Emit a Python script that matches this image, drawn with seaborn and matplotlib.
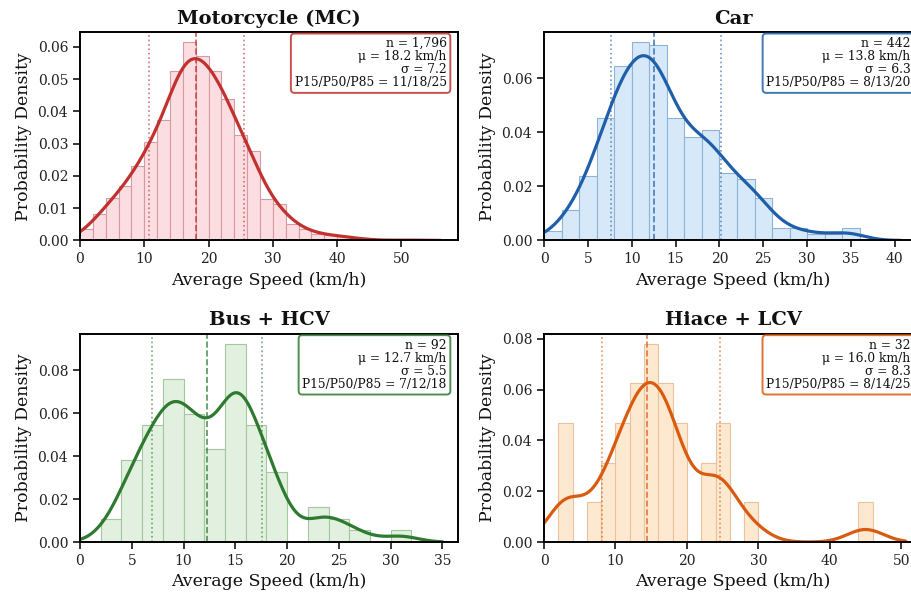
import numpy as np
import matplotlib.pyplot as plt
import seaborn as sns

# ---------------------------------------------------------------
# Speed distributions per vehicle class (2 km/h bins)
# ---------------------------------------------------------------

BIN_WIDTH = 2

titles = ["Motorcycle (MC)", "Car", "Bus + HCV", "Hiace + LCV"]

# first bin edge of each class, trips counted per 2 km/h bin
first_edge = [0, 0, 2, 2]
mc_counts = [13, 29, 47, 61, 83, 110, 134, 189, 221, 205, 189, 158, 117,
             100, 46, 41, 18, 13, 7, 6, 5, 2, 1, 0, 0, 1]
car_counts = [3, 10, 21, 40, 57, 65, 64, 40, 34, 36, 22, 20, 14, 4, 4, 2, 2, 4]
bus_counts = [2, 7, 10, 14, 11, 8, 17, 10, 6, 0, 3, 2, 1, 0, 1]
lcv_counts = [3, 0, 1, 2, 3, 4, 5, 4, 3, 0, 2, 3, 0, 1,
              0, 0, 0, 0, 0, 0, 0, 1]
all_counts = [mc_counts, car_counts, bus_counts, lcv_counts]

# summary statistics shown in the boxes
n_obs = [1796, 442, 92, 32]
mean_speed = [18.2, 13.8, 12.7, 16.0]
sd_speed = [7.2, 6.3, 5.5, 8.3]
p15 = [10.75, 7.69, 6.97, 8.16]
p50 = [18.07, 12.58, 12.23, 14.41]
p85 = [25.45, 20.2, 17.57, 24.63]

# x range of each panel and end of the density curve
x_right = [58.8, 43.1, 36.5, 52.9]
kde_end = [56.2, 41.2, 35.0, 50.6]

line_colors = ["#C0312F", "#1F5FAA", "#2E7A30", "#D95B10"]
fill_colors = ["#FCDDE1", "#D7E9F8", "#E2F1DF", "#FDE9D0"]
edge_colors = ["#D69AA2", "#8DB3D7", "#A3C8A0", "#EBC29C"]

# ---------------------------------------------------------------
# Style
# ---------------------------------------------------------------

sns.set_theme(style="ticks")
plt.rcParams["font.family"] = ["DejaVu Serif"]
plt.rcParams["axes.edgecolor"] = "black"
plt.rcParams["axes.linewidth"] = 1.4
plt.rcParams["text.color"] = "#111111"
plt.rcParams["axes.labelcolor"] = "#111111"
plt.rcParams["xtick.color"] = "black"
plt.rcParams["ytick.color"] = "black"
plt.rcParams["xtick.labelcolor"] = "#222222"
plt.rcParams["ytick.labelcolor"] = "#222222"
plt.rcParams["xtick.labelsize"] = 10
plt.rcParams["ytick.labelsize"] = 10

fig, axes = plt.subplots(2, 2, figsize=(9.12, 5.99), dpi=100)
fig.subplots_adjust(left=0.0877, right=1.011, bottom=0.095, top=0.9466,
                    wspace=0.2275, hspace=0.447)

for i, ax in enumerate(axes.flat):
    counts = np.array(all_counts[i])
    edges = first_edge[i] + BIN_WIDTH * np.arange(len(counts) + 1)
    speeds = np.repeat(edges[:-1] + BIN_WIDTH / 2, counts)

    sns.histplot(x=speeds, bins=edges, stat="density", ax=ax,
                 color=fill_colors[i], edgecolor=edge_colors[i],
                 linewidth=0.8, alpha=1)
    sns.kdeplot(x=speeds, bw_method=0.3, clip=(0, kde_end[i]), ax=ax,
                color=line_colors[i], linewidth=2.3)

    ax.axvline(p15[i], color=line_colors[i], ls=":", lw=1.2, alpha=0.65)
    ax.axvline(p50[i], color=line_colors[i], ls="--", lw=1.2, alpha=0.8)
    ax.axvline(p85[i], color=line_colors[i], ls=":", lw=1.2, alpha=0.65)

    txt = (f"n = {n_obs[i]:,}\n"
           f"μ = {mean_speed[i]:.1f} km/h\n"
           f"σ = {sd_speed[i]:.1f}\n"
           f"P15/P50/P85 = {p15[i]:.0f}/{p50[i]:.0f}/{p85[i]:.0f}")
    ax.text(0.97, 0.975, txt, transform=ax.transAxes, ha="right", va="top",
            fontsize=8.8, linespacing=1.0,
            bbox=dict(boxstyle="round,pad=0.3", facecolor="white",
                      edgecolor=line_colors[i], linewidth=1.4, alpha=0.85))

    ax.set_xlim(0, x_right[i])
    ax.set_title(titles[i], fontsize=14, fontweight="bold")
    ax.set_xlabel("Average Speed (km/h)", fontsize=12.5)
    ax.set_ylabel("Probability Density", fontsize=12.5)
    ax.yaxis.set_major_formatter(plt.FormatStrFormatter("%.2f"))
    ax.tick_params(length=5, width=1.1)

plt.savefig("out.png", dpi=100)
plt.close()
